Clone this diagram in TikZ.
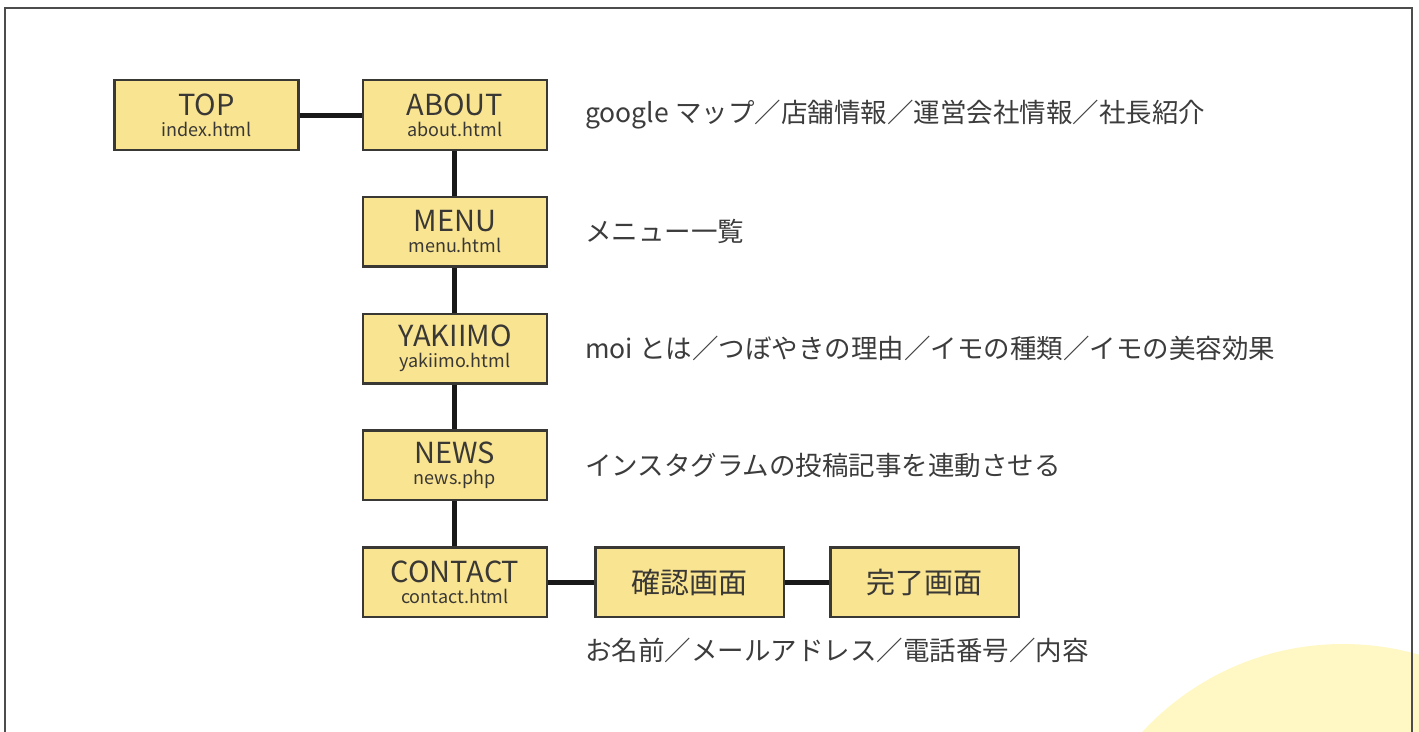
\documentclass[tikz,border=0pt]{standalone}
\usepackage{fontspec}
\setmainfont{Noto Sans CJK JP}
\usepackage{xcolor}
\usepackage{tikz}
\usetikzlibrary{positioning}
\definecolor{pagefill}{HTML}{F9E491}
\definecolor{pageline}{HTML}{3A3835}
\definecolor{notetext}{HTML}{3C3C3C}
\definecolor{blobfill}{HTML}{FFF7C4}
\tikzset{
    page_node/.style = {rectangle, draw=pageline, fill=pagefill, line width=2.4pt, minimum width=184pt, minimum height=69.6pt, inner sep=0pt, align=center, text=pageline, font=\fontsize{18}{21}\selectfont},
    sub_node/.style = {page_node, minimum width=188.6pt, font=\fontsize{29}{30}\selectfont},
    note_node/.style = {inner sep=0pt, anchor=west, text=notetext, font=\fontsize{26.5}{30}\selectfont},
    link/.style = {line width=5pt, draw=black!90}
}

\begin{document}
\begin{tikzpicture}[x=1pt, y=-1pt, node distance=44.8pt]
    \useasboundingbox (0,0) rectangle (1419,731);
    % background
    \fill[blobfill] (1343,917) circle (273pt);
    \draw[line width=1.4pt, draw=black!70] (5,760) |- (1412,8) -- (1412,760);
    % pages
    \node [page_node] (top) at (206.5,115) {{\fontsize{29}{21}\selectfont TOP}\\index.html};
    \node [page_node, right=62pt of top] (about) {{\fontsize{29}{21}\selectfont ABOUT}\\about.html};
    \node [page_node, below=of about] (menu) {{\fontsize{29}{21}\selectfont MENU}\\menu.html};
    \node [page_node, below=of menu] (yakiimo) {{\fontsize{29}{21}\selectfont YAKIIMO}\\yakiimo.html};
    \node [page_node, below=of yakiimo] (news) {{\fontsize{29}{21}\selectfont NEWS}\\news.php};
    \node [page_node, below=of news] (contact) {{\fontsize{29}{21}\selectfont CONTACT}\\contact.html};
    \node [sub_node, right=46pt of contact] (kakunin) {確認画面};
    \node [sub_node, right=44pt of kakunin] (kanryo) {完了画面};
    % notes
    \node [note_node, right=37pt of about] (about_note) {google マップ／店舗情報／運営会社情報／社長紹介};
    \node [note_node, right=37pt of menu] (menu_note) {メニュー一覧};
    \node [note_node, right=37pt of yakiimo] (yakiimo_note) {moi とは／つぼやきの理由／イモの種類／イモの美容効果};
    \node [note_node, right=37pt of news] (news_note) {インスタグラムの投稿記事を連動させる};
    \node [note_node, below=20pt of kakunin.south west, anchor=north west, xshift=-9pt] (contact_note) {お名前／メールアドレス／電話番号／内容};
    % links
    \draw [link] (top) -- (about);
    \draw [link] (about) -- (menu);
    \draw [link] (menu) -- (yakiimo);
    \draw [link] (yakiimo) -- (news);
    \draw [link] (news) -- (contact);
    \draw [link] (contact) -- (kakunin);
    \draw [link] (kakunin) -- (kanryo);
\end{tikzpicture}
\end{document}
